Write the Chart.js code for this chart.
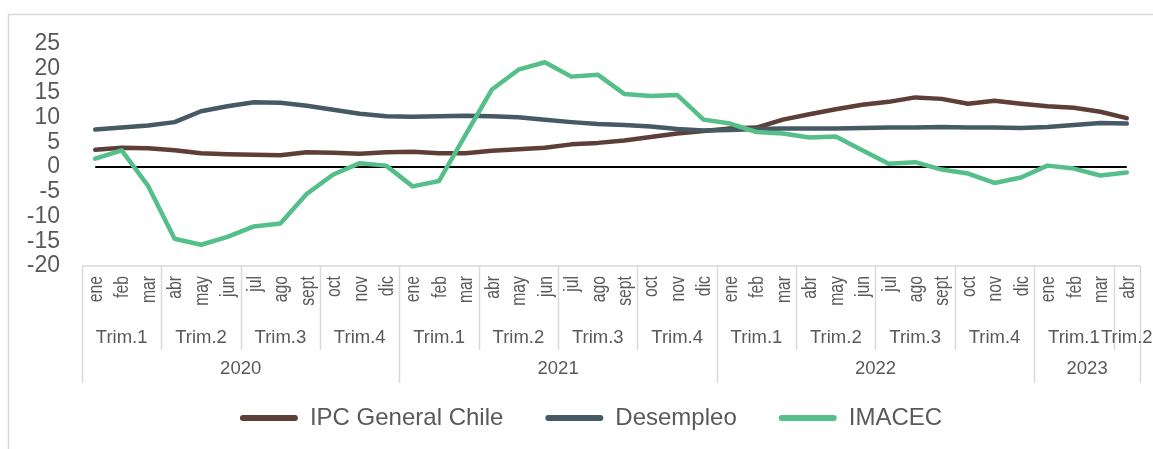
<!DOCTYPE html>
<html>
<head>
<meta charset="utf-8">
<script src="https://cdn.jsdelivr.net/npm/chart.js@4.4.1/dist/chart.umd.min.js"></script>
<style>
  html, body { margin: 0; padding: 0; background: #fff; }
  #caja { width: 1153px; height: 449px; position: relative; }
</style>
</head>
<body>
<div id="caja"><canvas id="grafico"></canvas></div>
<script>
// meses ene 2020 - abr 2023
const meses = [
  'ene','feb','mar','abr','may','jun','jul','ago','sept','oct','nov','dic',
  'ene','feb','mar','abr','may','jun','jul','ago','sept','oct','nov','dic',
  'ene','feb','mar','abr','may','jun','jul','ago','sept','oct','nov','dic',
  'ene','feb','mar','abr'
];
const trimestres = ['Trim.1', 'Trim.2', 'Trim.3', 'Trim.4'];
const anios = ['2020', '2021', '2022', '2023'];

const ipc = [
  3.5, 3.9, 3.8, 3.4, 2.8, 2.6, 2.5, 2.4, 3.0, 2.9, 2.7, 3.0,
  3.1, 2.8, 2.8, 3.3, 3.6, 3.9, 4.6, 4.9, 5.4, 6.1, 6.8, 7.3,
  7.8, 8.0, 9.6, 10.7, 11.7, 12.6, 13.2, 14.1, 13.8, 12.8, 13.4, 12.8,
  12.3, 12.0, 11.2, 9.9
];
const desempleo = [
  7.6, 8.0, 8.4, 9.1, 11.3, 12.3, 13.1, 13.0, 12.4, 11.6, 10.8, 10.3,
  10.2, 10.3, 10.4, 10.3, 10.1, 9.6, 9.1, 8.7, 8.5, 8.2, 7.7, 7.4,
  7.5, 7.7, 7.8, 7.8, 7.8, 7.9, 8.0, 8.0, 8.1, 8.0, 8.0, 7.9,
  8.1, 8.5, 8.9, 8.8
];
const imacec = [
  1.7, 3.4, -3.8, -14.5, -15.7, -14.1, -12.0, -11.4, -5.4, -1.5, 0.8, 0.3,
  -3.9, -2.8, 6.5, 15.7, 19.7, 21.2, 18.3, 18.7, 14.8, 14.4, 14.6, 9.6,
  8.8, 7.1, 6.8, 6.0, 6.2, 3.4, 0.7, 1.0, -0.5, -1.3, -3.2, -2.1,
  0.3, -0.3, -1.7, -1.1
];
const cero = meses.map(() => 0);

const gris = '#595959';
const fuente = '"Liberation Sans", Arial, sans-serif';

// marco exterior del gráfico
const marco = {
  id: 'marco',
  afterLayout(chart) {
    // la leyenda va algo corrida a la derecha en el original
    chart.legend.left += 16;
    chart.legend.right += 16;
  },
  beforeDraw(chart) {
    const ctx = chart.ctx;
    ctx.save();
    ctx.strokeStyle = '#d9d9d9';
    ctx.lineWidth = 1.5;
    ctx.beginPath();
    ctx.moveTo(8.5, chart.height);
    ctx.lineTo(8.5, 14.5);
    ctx.lineTo(chart.width, 14.5);
    ctx.stroke();
    ctx.restore();
  }
};

// eje x de tres niveles: mes / trimestre / año
const ejeMeses = {
  id: 'ejeMeses',
  afterDraw(chart) {
    const { ctx, chartArea, scales: { x } } = chart;
    const top = chartArea.bottom;
    const paso = x.getPixelForValue(1) - x.getPixelForValue(0);
    const borde = i => x.getPixelForValue(i) - paso / 2;
    const n = meses.length;

    ctx.save();
    ctx.strokeStyle = '#d9d9d9';
    ctx.lineWidth = 1.5;
    ctx.beginPath();
    ctx.moveTo(borde(0), top);
    ctx.lineTo(borde(n), top);
    for (let i = 0; i <= n; i++) {
      if (i % 3 !== 0 && i !== n) continue;
      const alto = (i % 12 === 0 || i === n) ? 117 : 84;
      const bx = Math.round(borde(i)) + 0.5;
      ctx.moveTo(bx, top);
      ctx.lineTo(bx, top + alto);
    }
    ctx.stroke();

    ctx.fillStyle = gris;
    ctx.font = '21px ' + fuente;
    ctx.textAlign = 'right';
    ctx.textBaseline = 'middle';
    meses.forEach((m, i) => {
      ctx.save();
      ctx.translate(x.getPixelForValue(i) + 1, top + 10);
      ctx.rotate(-Math.PI / 2);
      ctx.scale(0.75, 1);
      ctx.fillText(m, 0, 0);
      ctx.restore();
    });

    ctx.font = '18.5px ' + fuente;
    ctx.textAlign = 'center';
    const grupos = (clave, texto, y) => {
      let ini = 0;
      for (let i = 1; i <= n; i++) {
        if (i === n || clave(i) !== clave(ini)) {
          ctx.fillText(texto(ini), (borde(ini) + borde(i)) / 2, y);
          ini = i;
        }
      }
    };
    grupos(i => Math.floor(i / 3), i => trimestres[Math.floor((i % 12) / 3)], top + 72);
    grupos(i => Math.floor(i / 12), i => anios[Math.floor(i / 12)], top + 103);
    ctx.restore();
  }
};

const serie = (label, data, color, order) => ({
  label, data, order,
  borderColor: color,
  backgroundColor: color,
  borderWidth: 4.5,
  borderCapStyle: 'round',
  borderJoinStyle: 'round',
  pointRadius: 0,
  tension: 0,
  fill: false
});

new Chart(document.getElementById('grafico'), {
  type: 'line',
  data: {
    labels: meses,
    datasets: [
      serie('IPC General Chile', ipc, '#5d3f37', 3),
      serie('Desempleo', desempleo, '#455a65', 2),
      serie('IMACEC', imacec, '#55bf8a', 1),
      { label: 'cero', data: cero, borderColor: '#000', borderWidth: 2, pointRadius: 0, order: 4 }
    ]
  },
  options: {
    responsive: true,
    maintainAspectRatio: false,
    animation: false,
    layout: { padding: { top: 43.5, left: 10, right: 13, bottom: 9 } },
    plugins: {
      tooltip: { enabled: false },
      legend: {
        position: 'bottom',
        labels: {
          color: gris,
          font: { family: fuente, size: 24 },
          boxWidth: 58,
          boxHeight: 6,
          padding: 42,
          useBorderRadius: true,
          borderRadius: 3,
          filter: item => item.text !== 'cero',
          sort: (a, b) => a.datasetIndex - b.datasetIndex,
          generateLabels: chart =>
            Chart.defaults.plugins.legend.labels.generateLabels(chart).map(it => ({
              ...it, lineWidth: 0, fillStyle: it.strokeStyle
            }))
        }
      }
    },
    scales: {
      x: {
        type: 'category',
        offset: true,
        grid: { display: false, drawTicks: false },
        border: { display: false },
        ticks: { display: false },
        afterFit: s => { s.height = 98; }
      },
      y: {
        min: -20,
        max: 25,
        grid: { display: false, drawTicks: false },
        border: { display: false },
        ticks: {
          stepSize: 5,
          autoSkip: false,
          padding: 22,
          color: gris,
          font: { family: fuente, size: 23 }
        },
        afterFit: s => { s.width = 72; }
      }
    }
  },
  plugins: [marco, ejeMeses]
});
</script>
</body>
</html>
